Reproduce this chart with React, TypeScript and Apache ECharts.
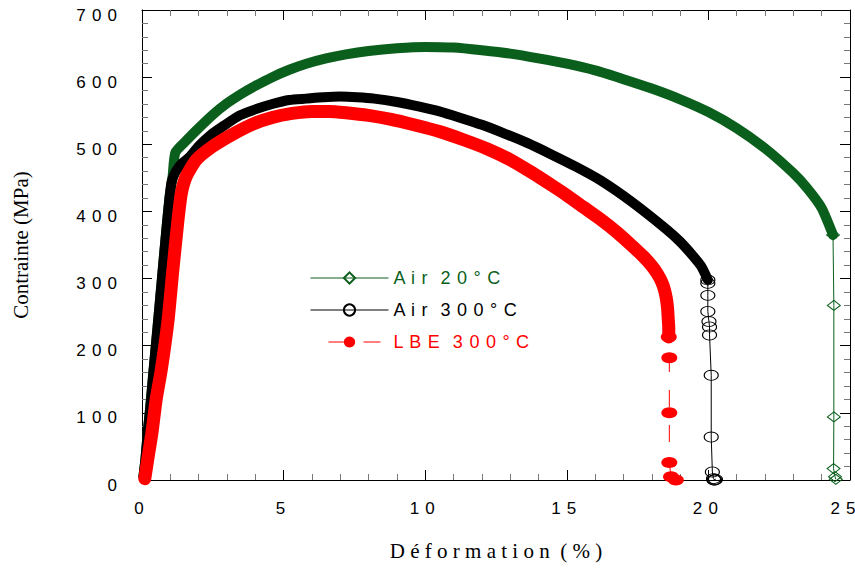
import React, { useEffect, useRef } from 'react';
import * as echarts from 'echarts';

// ---- Data (strain %, stress MPa) ----
const airRtBandStrain = [0.05, 0.12, 0.2, 0.3, 0.4, 0.55, 0.7, 0.85, 0.97, 1.08, 1.18, 1.6, 2.0, 2.5, 3.0, 3.5, 4.0, 4.6, 5.2, 5.8, 6.5, 7.2, 8.0, 9.0, 10.0, 11.0, 12.0, 13.0, 14.0, 15.0, 16.0, 17.0, 18.0, 19.0, 20.0, 21.0, 22.0, 23.0, 23.5, 24.0, 24.4];
const airRtBandStress = [5, 30, 70, 112, 160, 228, 298, 368, 420, 452, 488, 507, 524, 544, 561, 575, 587, 600, 611, 620, 628, 634, 639, 643, 645, 644, 640, 635, 628, 620, 610, 597, 583, 567, 548, 524, 494, 457, 434, 405, 365];
const airRtDropStrain = [24.4, 24.43, 24.43, 24.42, 24.47, 24.5];
const airRtDropStress = [365, 260, 94, 17, 5, 1];

const air300BandStrain = [0.05, 0.12, 0.2, 0.3, 0.4, 0.55, 0.7, 0.85, 0.97, 1.05, 1.2, 1.4, 1.68, 2.0, 2.4, 2.9, 3.45, 4.0, 4.6, 5.2, 5.8, 6.4, 7.0, 7.6, 8.2, 9.0, 9.8, 10.5, 11.2, 12.0, 12.8, 13.6, 14.4, 15.3, 16.2, 17.3, 18.5, 19.0, 19.45, 19.75, 19.98];
const air300BandStress = [5, 30, 70, 112, 160, 228, 298, 368, 420, 445, 460, 471, 481, 497, 513, 528, 543, 552, 560, 566, 568, 570, 571, 570, 568, 563, 556, 549, 540, 529, 516, 502, 486, 467, 446, 414, 374, 355, 334, 318, 298];
const air300DropStrain = [19.98, 19.98, 19.98, 19.98, 20.02, 20.04, 20.04, 20.1, 20.1, 20.14, 20.18, 20.22, 20.25, 20.2];
const air300DropStress = [298, 293, 275, 251, 236, 228, 216, 156, 64, 12, 2, 0, 1, 0];

const lbeBandStrain = [0.1, 0.2, 0.35, 0.5, 0.68, 0.92, 1.09, 1.27, 1.39, 1.56, 1.92, 2.5, 3.2, 3.9, 4.6, 5.3, 6.0, 6.6, 7.2, 8.0, 8.8, 9.6, 10.5, 11.4, 12.2, 13.0, 13.8, 14.5, 15.0, 15.6, 16.2, 16.8, 17.3, 17.7, 18.0, 18.2, 18.35, 18.45, 18.52, 18.56, 18.58, 18.6, 18.6];
const lbeBandStress = [2, 30, 70, 120, 164, 238, 313, 387, 427, 452, 477, 497, 515, 530, 540, 546, 549, 549, 547, 543, 537, 529, 519, 506, 493, 477, 457, 438, 424, 406, 388, 368, 349, 333, 319, 307, 295, 283, 269, 255, 241, 227, 213];
const lbeDropStrain = [18.6, 18.62, 18.62, 18.62, 18.68, 18.85];
const lbeDropStress = [213, 182, 100, 26, 5, 0];

const seriesNames = ['Air 20°C', 'Air 300°C', 'LBE 300°C'];
const seriesColors = ['#0b5f1c', '#000000', '#ff0000'];
const xTitle = 'Déformation (%)';
const yTitle = 'Contrainte (MPa)';

const zip = (a: number[], b: number[]) => a.map((x, i) => [x, b[i]]);
const HAIR = ' \u200A';
const spaced = (s: string, sep: string = HAIR) =>
  s.split(' ').map((w) => Array.from(w).join(sep)).join(sep + sep);

export default function App() {
  const ref = useRef<HTMLDivElement>(null);
  useEffect(() => {
    if (!ref.current) return;
    const chart = echarts.init(ref.current, undefined, { renderer: 'svg' });
    const sans = 'Liberation Sans, Arial, sans-serif';
    const serif = 'Liberation Serif, Times New Roman, serif';
    const axisCommon = {
      type: 'value' as const,
      axisLine: { show: true, onZero: false, lineStyle: { color: '#000', width: 1 } },
      axisTick: { show: true, inside: true, length: 10, lineStyle: { color: '#000' } },
      minorTick: { show: true, splitNumber: 5, length: 6, lineStyle: { color: '#777' } },
      splitLine: { show: false },
      minorSplitLine: { show: false },
    };
    const band = (name: string, data: number[][], color: string, width: number) => ({
      name,
      type: 'line',
      data,
      symbol: 'none',
      smooth: 0.2,
      lineStyle: { color, width, cap: 'round', join: 'round' },
      itemStyle: { color },
      clip: false,
    });
    const [g, k, r] = seriesColors;
    chart.setOption({
      animation: false,
      grid: { left: 142, right: 5, top: 10, bottom: 88, containLabel: false, outerBoundsMode: 'none' },
      legend: {
        orient: 'vertical',
        left: 305,
        top: 264,
        itemWidth: 78,
        itemHeight: 14,
        itemGap: 14,
        formatter: (n: string) => spaced(n),
        lineStyle: { width: 1 },
        textStyle: { fontFamily: sans, fontSize: 18 },
        data: seriesNames.map((n, i) => ({ name: n, textStyle: { color: seriesColors[i] } })),
      },
      xAxis: [
        {
          ...axisCommon,
          position: 'bottom',
          min: 0,
          max: 25,
          interval: 5,
          axisLabel: {
            fontFamily: sans,
            fontSize: 17,
            color: '#000',
            margin: 20,
            padding: [0, 6, 0, 0],
            formatter: (v: number) => (v === 25 ? '{m|' + spaced(String(v)) + '}' : spaced(String(v))),
            rich: { m: { fontFamily: sans, fontSize: 17, color: '#000', padding: [0, 8, 0, 0] } },
          },
          name: spaced(xTitle, ' '),
          nameLocation: 'middle',
          nameGap: 60,
          nameTextStyle: { fontFamily: serif, fontSize: 21, color: '#000' },
        },
        {
          ...axisCommon,
          position: 'top',
          min: 0,
          max: 25,
          interval: 5,
          axisLabel: { show: false },
        },
      ],
      yAxis: [
        {
          ...axisCommon,
          position: 'left',
          min: 0,
          max: 700,
          interval: 100,
          axisLabel: {
            fontFamily: sans,
            fontSize: 17,
            color: '#000',
            margin: 25,
            lineHeight: 10,
            formatter: (v: number) => '\n' + spaced(String(v)),
          },
          name: yTitle,
          nameLocation: 'middle',
          nameGap: 111,
          nameTextStyle: { fontFamily: serif, fontSize: 21, color: '#000' },
        },
        {
          ...axisCommon,
          position: 'right',
          min: 0,
          max: 700,
          interval: 100,
          axisLabel: { show: false },
        },
      ],
      series: [
        band('Air 20°C (courbe)', zip(airRtBandStrain, airRtBandStress), g, 10),
        {
          name: seriesNames[0],
          type: 'line',
          data: zip(airRtDropStrain, airRtDropStress),
          symbol: 'diamond',
          symbolSize: [13, 10],
          showAllSymbol: true,
          clip: false,
          lineStyle: { color: g, width: 1 },
          itemStyle: { color: 'rgba(255,255,255,0)', borderColor: g, borderWidth: 1 },
        },
        band('Air 300°C (courbe)', zip(air300BandStrain, air300BandStress), k, 10),
        {
          name: seriesNames[1],
          type: 'line',
          data: zip(air300DropStrain, air300DropStress),
          symbol: 'circle',
          symbolSize: [14, 10],
          showAllSymbol: true,
          clip: false,
          lineStyle: { color: k, width: 1 },
          itemStyle: { color: 'rgba(255,255,255,0)', borderColor: k, borderWidth: 1 },
        },
        band('LBE 300°C (courbe)', zip(lbeBandStrain, lbeBandStress), r, 13),
        {
          name: seriesNames[2],
          type: 'line',
          data: zip(lbeDropStrain, lbeDropStress),
          symbol: 'circle',
          symbolSize: [16, 11],
          showAllSymbol: true,
          clip: false,
          lineStyle: { color: r, width: 1, type: [17, 18], dashOffset: 17 },
          itemStyle: { color: r, borderColor: r, borderWidth: 0 },
        },
      ],
    });
    return () => chart.dispose();
  }, []);
  return (
    <div
      ref={ref}
      style={{ position: 'fixed', left: 0, top: 0, width: 855, height: 568, background: '#fff' }}
    />
  );
}
